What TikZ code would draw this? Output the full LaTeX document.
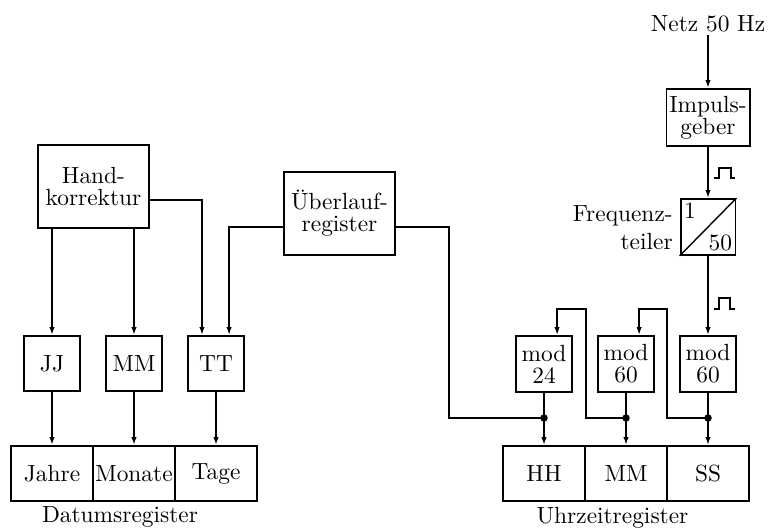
\documentclass[tikz,border=0pt]{standalone}
\usetikzlibrary{arrows.meta,calc}
\begin{document}
\begin{tikzpicture}[x=0.4275pt,y=-0.4275pt,line width=0.85pt,
  >={Latex[length=3.4pt,width=2.3pt]},
  box/.style={draw,inner sep=0pt,align=center},
  big/.style={box,minimum width=47.45pt,minimum height=35.5pt},
  small/.style={box,minimum width=23.9pt,minimum height=23.5pt},
  cell/.style={box,minimum width=35.05pt,minimum height=23.5pt},
  dot/.style={circle,fill,inner sep=0pt,minimum size=3.2pt}]
\useasboundingbox (0,0) rectangle (769,529);

% boxes
\node[big] (hand) at (93.5,186.5) {Hand-\\[-2.6pt]korrektur};
\node[big] (ueb) at (339.5,213.5) {Überlauf-\\[-2.6pt]register};
\node[small] (jj) at (52,363.5) {JJ};
\node[small] (mm) at (134,363.5) {MM};
\node[small] (tt) at (216,363.5) {TT};
\node[cell] (jahre) at (52,473.5) {Jahre};
\node[cell] (monate) at (134,473.5) {Monate};
\node[cell] (tage) at (216,473.5) {Tage};
\node (dlabel) at (120,517) {Datumsregister};

\node[anchor=base,inner sep=1pt] (netz) at (708,31) {Netz 50 Hz};
\node[box,minimum width=35.5pt,minimum height=24.4pt] (imp) at (708,117.5) {Impuls-\\[-2.6pt]geber};
\node[box,minimum width=23.5pt,minimum height=23.9pt] (freq) at (708,227) {};
\draw[line width=0.6pt] (freq.south west) -- (freq.north east);
\node[anchor=north west,inner sep=1.5pt] (f1) at (freq.north west) {1};
\node[anchor=south east,inner sep=1.5pt] (f50) at (freq.south east) {50};
\node[align=right,anchor=east,inner sep=1pt] (flabel) at (676,228) {Frequenz-\\teiler};

\node[small,minimum height=23.9pt] (h24) at (544,364) {mod\\[-2.6pt]24};
\node[small,minimum height=23.9pt] (m60) at (626,364) {mod\\[-2.6pt]60};
\node[small,minimum height=23.9pt] (s60) at (708,364) {mod\\[-2.6pt]60};
\node[cell] (hh) at (544,473.5) {HH};
\node[cell] (um) at (626,473.5) {MM};
\node[cell] (ss) at (708,473.5) {SS};
\node (ulabel) at (612.5,518) {Uhrzeitregister};

% connectors left
\draw[->] (hand.south -| jj) -- (jj.north);
\draw[->] (hand.south -| mm) -- (mm.north);
\draw[->] ([yshift=-5.8pt]hand.east) -| ([xshift=-6pt]tt.north);
\draw[->] ([yshift=-5.8pt]ueb.west) -| ([xshift=5.6pt]tt.north);
\draw[->] (jj) -- (jahre);
\draw[->] (mm) -- (monate);
\draw[->] (tt) -- (tage);

% right side
\coordinate (j1) at (544,418);
\coordinate (j2) at (626,418);
\coordinate (j3) at (708,418);
\coordinate (c1) at (449,418);
\coordinate (k1) at (586,309);
\coordinate (k2) at (667,309);
\draw[->] (netz.south) -- (imp.north);
\draw[->] (imp.south) -- (freq.north);
\draw[->] (freq.south) -- (s60.north);
\draw ([yshift=-5.8pt]ueb.east) -| (c1) -- (j1);
\draw[->] (h24.south) -- (hh.north);
\draw[->] (m60.south) -- (um.north);
\draw[->] (s60.south) -- (ss.north);
\draw[->] (j2) -| (k1) -| ([xshift=5.6pt]h24.north);
\draw[->] (j3) -| (k2) -| ([xshift=5.6pt]m60.north);
\node[dot] (d1) at (j1) {};
\node[dot] (d2) at (j2) {};
\node[dot] (d3) at (j3) {};

% pulses
\draw[line width=0.8pt] (714,178) -- (719,178) -- (719,168) -- (731,168) -- (731,178) -- (735,178);
\draw[line width=0.8pt] (714,309) -- (719,309) -- (719,298) -- (730,298) -- (730,309) -- (735,309);
\end{tikzpicture}
\end{document}
